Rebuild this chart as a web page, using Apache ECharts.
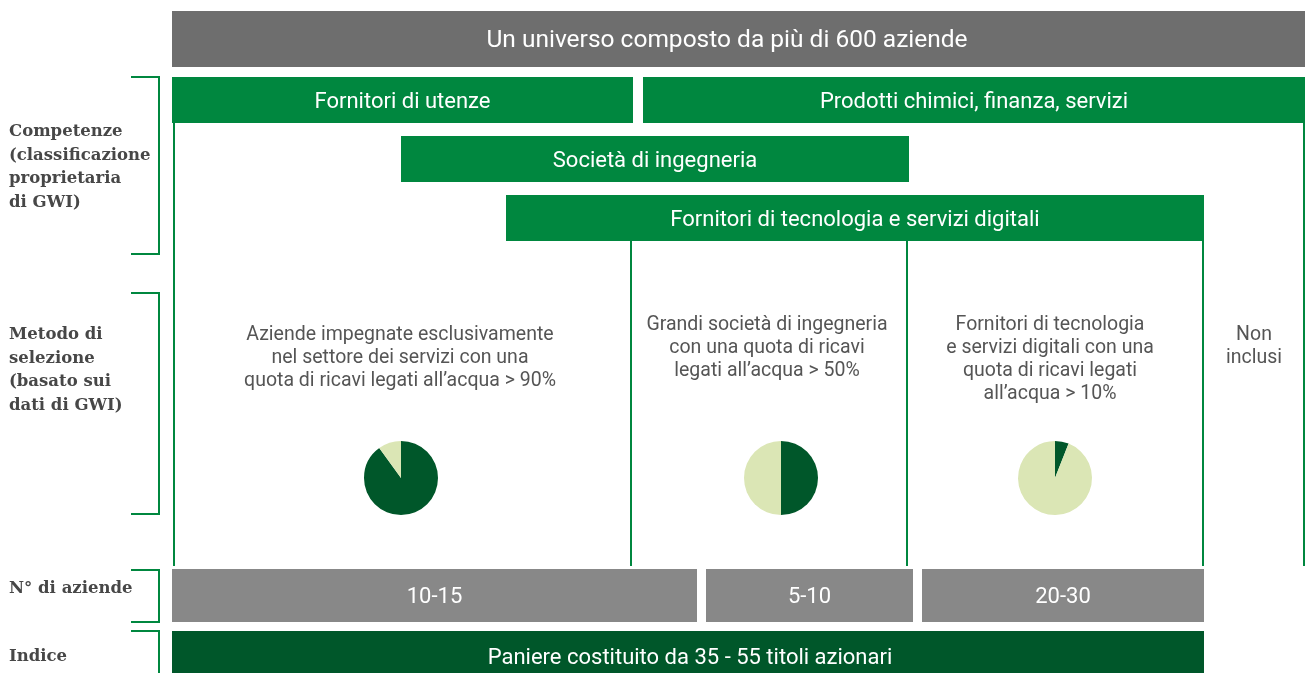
<!DOCTYPE html>
<html lang="it">
<head>
<meta charset="UTF-8">
<script src="https://cdn.jsdelivr.net/npm/echarts@6/dist/echarts.min.js"></script>
<style>
  html, body { margin: 0; padding: 0; background: #fff; }
  #main { width: 1305px; height: 673px; }
</style>
</head>
<body>
<div id="main"></div>
<script>
    // testi e valori dell'infografica
    var titolo = 'Un universo composto da più di 600 aziende';
    var settori = ['Fornitori di utenze', 'Prodotti chimici, finanza, servizi',
        'Società di ingegneria', 'Fornitori di tecnologia e servizi digitali'];
    var criteri = [
        'Aziende impegnate esclusivamente\nnel settore dei servizi con una\nquota di ricavi legati all’acqua > 90%',
        'Grandi società di ingegneria\ncon una quota di ricavi\nlegati all’acqua > 50%',
        'Fornitori di tecnologia\ne servizi digitali con una\nquota di ricavi legati\nall’acqua > 10%',
        'Non\ninclusi'
    ];
    var quotaAcqua = [90, 50, 6];   // % ricavi legati all'acqua (spicchio scuro)
    var numAziende = ['10-15', '5-10', '20-30'];
    var indice = 'Paniere costituito da 35 - 55 titoli azionari';
    var etichette = ['Competenze\n(classificazione\nproprietaria\ndi GWI)',
        'Metodo di\nselezione\n(basato sui\ndati di GWI)', 'N° di aziende', 'Indice'];

    var verde = '#00873f', scuro = '#00572a', chiaro = '#dbe6b5', grigio = '#888888';
    var chart = echarts.init(document.getElementById('main'));
    var g = [];

    function box(x0, x1, y0, y1, fill, text, size, ty) {
        g.push({type: 'rect', shape: {x: x0, y: y0, width: x1 - x0, height: y1 - y0}, style: {fill: fill}});
        g.push({type: 'text', x: ty && ty.x || (x0 + x1) / 2, y: (ty && ty.y || (y0 + y1) / 2) + 2,
            style: {text: text, fill: '#fff', font: size + 'px Roboto', align: 'center', verticalAlign: 'middle'}});
    }
    function line(x1, y1, x2, y2) {
        g.push({type: 'line', shape: {x1: x1, y1: y1, x2: x2, y2: y2}, style: {stroke: verde, lineWidth: 2}});
    }
    function bracket(y0, y1) {
        g.push({type: 'polyline', shape: {points: [[131, y0], [159, y0], [159, y1], [131, y1]]},
            style: {stroke: verde, lineWidth: 2, fill: null}});
    }
    function testo(x, y, text, opt) {
        g.push({type: 'text', x: x, y: y + 2, style: Object.assign({text: text, fill: '#555555',
            font: '19.5px Roboto', align: 'center', verticalAlign: 'top', lineHeight: 23}, opt || {})});
    }

    // righe superiori
    box(172, 1305, 11, 67, '#6e6e6e', titolo, 24.5, {x: 727, y: 39});
    box(172, 633, 77, 123, verde, settori[0], 22);
    box(643, 1305, 77, 123, verde, settori[1], 22);
    box(401, 909, 136, 182, verde, settori[2], 22);
    box(506, 1204, 195, 241, verde, settori[3], 22);

    // linee verticali
    line(174, 123, 174, 566);
    line(1304, 123, 1304, 566);
    line(631, 241, 631, 566);
    line(907, 241, 907, 566);
    line(1203, 241, 1203, 566);

    // criteri di selezione
    testo(400, 322, criteri[0]);
    testo(767, 312, criteri[1]);
    testo(1050, 312, criteri[2]);
    testo(1254, 322, criteri[3]);

    // numero di aziende e indice
    box(172, 697, 569, 622, grigio, numAziende[0], 22);
    box(706, 913, 569, 622, grigio, numAziende[1], 22);
    box(922, 1204, 569, 622, grigio, numAziende[2], 22);
    box(172, 1204, 631, 690, scuro, indice, 22, {x: 690, y: 656});

    // parentesi ed etichette a sinistra
    bracket(77, 254);
    bracket(293, 514);
    bracket(570, 622);
    bracket(631, 700);
    var lab = {font: 'bold 16.5px "DejaVu Serif"', fill: '#474747', align: 'left', lineHeight: 23.5};
    testo(9, 118, etichette[0], lab);
    testo(9, 321, etichette[1], lab);
    testo(9, 575, etichette[2], lab);
    testo(9, 643, etichette[3], lab);

    var centri = [[401, 478], [781, 478], [1055, 478]];
    var series = quotaAcqua.map(function (v, i) {
        return {
            type: 'pie', center: centri[i], radius: 37, startAngle: 90, clockwise: true,
            silent: true, label: {show: false}, labelLine: {show: false},
            itemStyle: {borderWidth: 0},
            data: [{value: v, itemStyle: {color: scuro}}, {value: 100 - v, itemStyle: {color: chiaro}}]
        };
    });

    chart.setOption({
        animation: false,
        graphic: g,
        series: series
    });
</script>
</body>
</html>
